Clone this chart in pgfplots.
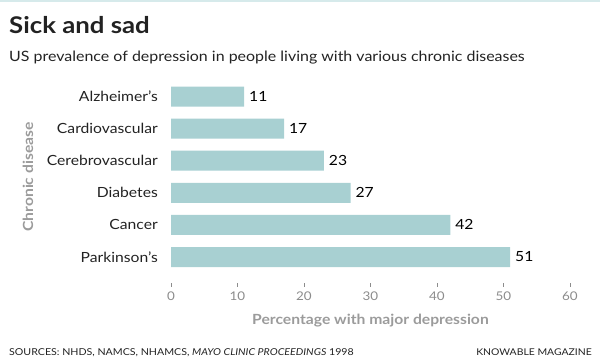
\documentclass[border=0pt]{standalone}
\usepackage{pgfplots}
\pgfplotsset{compat=1.18}
\usepackage{fontspec}
\setmainfont{Lato}[FakeStretch=1.12]
\definecolor{barcol}{HTML}{A8D0D2}
\definecolor{stripcol}{HTML}{D6EAEB}
\definecolor{tickgray}{HTML}{8C8C8C}
\definecolor{labgray}{HTML}{9B9B9B}
\definecolor{txt}{HTML}{222222}
\begin{document}
\begin{tikzpicture}
\path[use as bounding box] (0,0) rectangle (600bp,358bp);
\fill[stripcol] (0,355.5bp) rectangle (600bp,358bp);
\node[anchor=base west, inner sep=0, text=txt, font=\fontsize{23bp}{25bp}\selectfont\bfseries] at (9bp,324bp) {Sick and sad};
\node[anchor=base west, inner sep=0, text=txt, font=\fontsize{14.25bp}{16bp}\selectfont] at (9bp,296bp) {US prevalence of depression in people living with various chronic diseases};
\node[anchor=base west, inner sep=0, text=txt, font=\fontsize{9.5bp}{12bp}\selectfont] at (9bp,2.5bp) {SOURCES: NHDS, NAMCS, NHAMCS, \textit{MAYO CLINIC PROCEEDINGS} 1998};
\node[anchor=base east, inner sep=0, text=txt, font=\fontsize{9.3bp}{12bp}\selectfont] at (592bp,2.5bp) {KNOWABLE MAGAZINE};
\begin{axis}[
  at={(171bp,75bp)}, anchor=south west,
  scale only axis,
  width=399bp, height=202.5bp,
  xmin=0, xmax=60, ymin=-0.81, ymax=5.5,
  xbar, bar width=20bp, bar shift=0pt,
  axis x line*=bottom, axis y line=none,
  x axis line style={draw=none},
  xtick={0,10,...,60},
  tick align=outside,
  major tick length=4bp,
  tick style={tickgray, line width=0.8bp},
  ytick=\empty,
  xticklabel style={text=tickgray, font=\fontsize{12bp}{14bp}\selectfont, yshift=-1bp},
  /pgf/number format/assume math mode=true,
  xlabel={Percentage with major depression},
  xlabel style={text=labgray, font=\fontsize{14bp}{16bp}\selectfont\bfseries, yshift=-7bp},
  nodes near coords,
  nodes near coords style={text=black, font=\fontsize{14bp}{16bp}\selectfont, anchor=west, xshift=1.5bp},
  clip=false,
]
\addplot[fill=barcol, draw=none] coordinates {
 (51,0) (42,1) (27,2) (23,3) (17,4) (11,5)
};
\foreach \y/\lab in {0/Parkinson’s,1/Cancer,2/Diabetes,3/Cerebrovascular,4/Cardiovascular,5/Alzheimer’s}{
  \edef\tmp{\noexpand\node[anchor=east, inner sep=0, text=txt, font=\noexpand\fontsize{14bp}{16bp}\noexpand\selectfont] at (axis cs:0,\y) [xshift=-13bp] {\lab};}
  \tmp
}
\end{axis}
\node[rotate=90, text=labgray, font=\fontsize{14bp}{16bp}\selectfont\bfseries] at (28bp,181bp) {Chronic disease};
\end{tikzpicture}
\end{document}
